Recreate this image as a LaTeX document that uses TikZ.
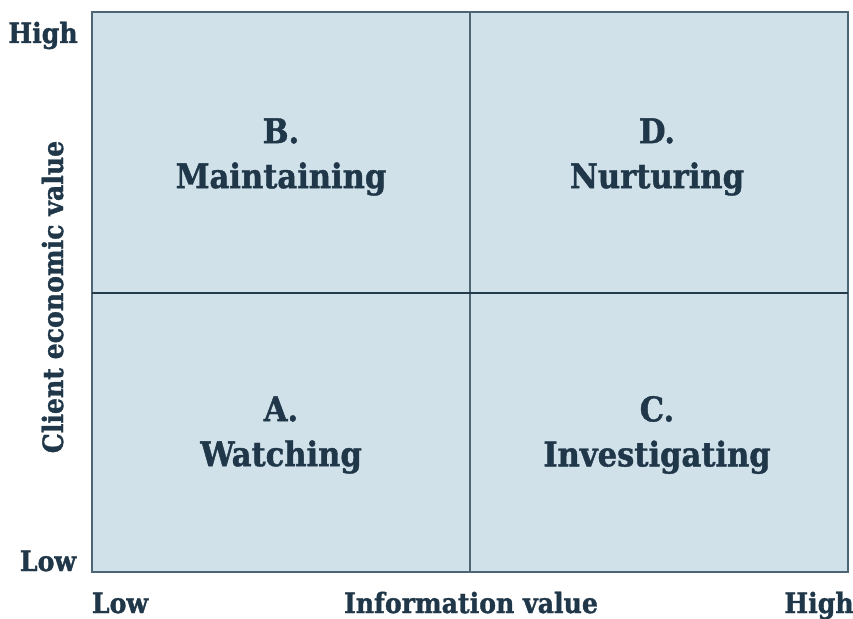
\documentclass[tikz,border=0pt]{standalone}
\usepackage{fontspec}
\setmainfont{DejaVu Serif Condensed}[BoldFont={DejaVu Serif Condensed Bold},BoldFeatures={FakeBold=1.2}]

\definecolor{quadfill}{HTML}{D0E1E9}
\definecolor{gridline}{HTML}{4D6676}
\definecolor{midline}{HTML}{243B4C}
\definecolor{inkblue}{HTML}{1F3749}

\begin{document}
\begin{tikzpicture}[x=1pt,y=-1pt,
        every node/.style={text=inkblue,inner sep=0pt},
        quad/.style={font=\fontsize{34}{45}\selectfont\bfseries,align=center},
        axis/.style={font=\fontsize{28}{30}\selectfont\bfseries,anchor=base}]
        \useasboundingbox (0,0) rectangle (853,618);
        \path (92,12) coordinate (NW)
        (848,572) coordinate (SE)
        (470,12) coordinate (N)
        (470,572) coordinate (S)
        (92,293) coordinate (W)
        (848,293) coordinate (E);
        % the four quadrants
        \filldraw[fill=quadfill,draw=gridline,line width=2pt] (NW) rectangle (SE);
        \draw[gridline,line width=1.5pt] (N) -- (S);
        \draw[midline,line width=1.5pt] (W) -- (E);
        \node[quad] (maint) at (281,157) {B.\\Maintaining};
        \node[quad] (nurt) at (657,157) {D.\\Nurturing};
        \node[quad] (watch) at (281,435) {A.\\Watching};
        \node[quad] (invest) at (657,435) {C.\\Investigating};
        % axis labels
        \node[axis] (yhigh) at (43,43) {High};
        \node[axis] (ylow) at (48,571) {Low};
        \node[axis,rotate=90] (ytitle) at (63,297) {Client economic value};
        \node[axis] (xlow) at (120,613) {Low};
        \node[axis] (xtitle) at (471,613) {Information value};
        \node[axis] (xhigh) at (819,613) {High};
\end{tikzpicture}
\end{document}
